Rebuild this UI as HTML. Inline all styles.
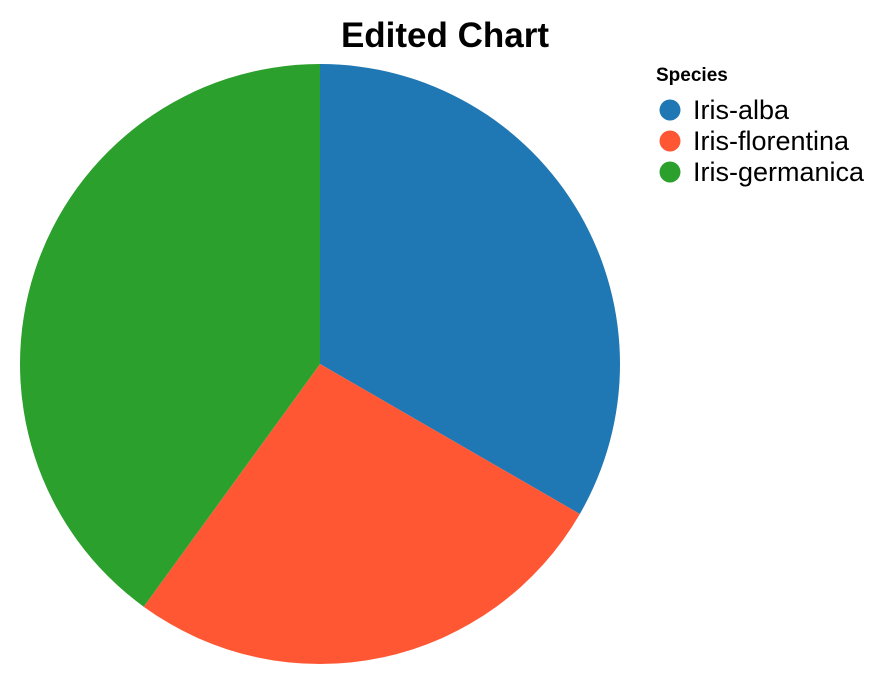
<!DOCTYPE html>
<html><head><meta charset="utf-8">
<style>
html,body{margin:0;padding:0;background:#fff;}
svg{display:block;font-family:"Liberation Sans",Arial,sans-serif;}
</style></head>
<body>
<svg id="chart" width="890" height="684" viewBox="0 0 890 684">
  <text x="445" y="47" text-anchor="middle" font-size="35" font-weight="bold" fill="#000">Edited Chart</text>
  <g id="slices"></g>
  <g id="legend">
    <text x="656" y="81" font-size="19" font-weight="bold" fill="#000">Species</text>
  </g>
</svg>
<script>
const categories = ["Iris-alba", "Iris-florentina", "Iris-germanica"];
const values = [50, 40, 60];
const colors = ["#1f77b4", "#ff5733", "#2ca02c"];

const cx = 320, cy = 364, r = 300;
const NS = "http://www.w3.org/2000/svg";
const total = values.reduce((a, b) => a + b, 0);
const slices = document.getElementById("slices");
let a0 = 0;
function pt(a) { return [cx + r * Math.sin(a), cy - r * Math.cos(a)]; }
values.forEach((v, i) => {
  const a1 = a0 + v / total * Math.PI * 2;
  const p0 = pt(a0), p1 = pt(a1);
  const large = (a1 - a0) > Math.PI ? 1 : 0;
  const path = document.createElementNS(NS, "path");
  path.setAttribute("d", `M${cx},${cy} L${p0[0]},${p0[1]} A${r},${r} 0 ${large} 1 ${p1[0]},${p1[1]} Z`);
  path.setAttribute("fill", colors[i]);
  
  
  slices.appendChild(path);
  a0 = a1;
});

const legend = document.getElementById("legend");
categories.forEach((c, i) => {
  const y = 110 + i * 31;
  const g = document.createElementNS(NS, "g");
  
  
  const circ = document.createElementNS(NS, "circle");
  circ.setAttribute("cx", 670); circ.setAttribute("cy", y); circ.setAttribute("r", 10.5);
  circ.setAttribute("fill", colors[i]);
  const t = document.createElementNS(NS, "text");
  t.setAttribute("x", 693); t.setAttribute("y", y + 9);
  t.setAttribute("font-size", "27"); t.setAttribute("fill", "#000");
  t.textContent = c;
  g.appendChild(circ); g.appendChild(t);
  legend.appendChild(g);
});
</script>
</body></html>
